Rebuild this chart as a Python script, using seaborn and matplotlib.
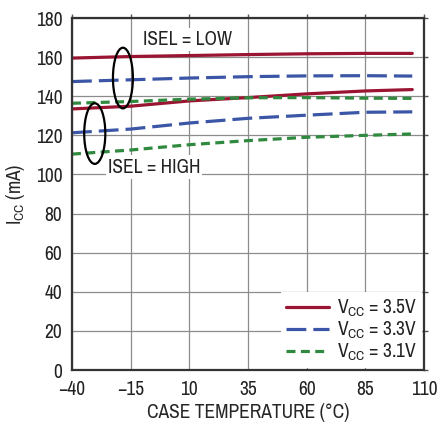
import numpy as np
import pandas as pd
import matplotlib
matplotlib.use('Agg')
import matplotlib.pyplot as plt
import seaborn as sns
from matplotlib.patches import Ellipse

temp = [-40, -15, 10, 35, 60, 85, 105]

# ISEL = LOW
low_35 = [159.5, 160.3, 160.8, 161.3, 161.7, 161.9, 161.9]
low_33 = [147.5, 148.4, 149.3, 150.0, 150.4, 150.5, 150.3]
low_31 = [136.4, 137.3, 138.5, 139.2, 139.3, 139.0, 138.9]

# ISEL = HIGH
high_35 = [133.5, 134.9, 137.6, 139.3, 141.2, 142.7, 143.4]
high_33 = [121.3, 123.2, 126.3, 128.7, 130.3, 131.8, 132.0]
high_31 = [110.4, 112.5, 115.2, 117.3, 119.0, 120.0, 120.7]

vcc_levels = ['3.5V', '3.3V', '3.1V']
xticks = [-40, -15, 10, 35, 60, 85, 110]
xtick_labels = ['\u221240', '\u221215', '10', '35', '60', '85', '110']

series = {
    ('3.5V', 'LOW'): low_35, ('3.3V', 'LOW'): low_33, ('3.1V', 'LOW'): low_31,
    ('3.5V', 'HIGH'): high_35, ('3.3V', 'HIGH'): high_33, ('3.1V', 'HIGH'): high_31,
}
rows = []
for (vcc, isel), vals in series.items():
    for t, v in zip(temp, vals):
        rows.append({'temp': t, 'icc': v, 'vcc': vcc, 'isel': isel})
df = pd.DataFrame(rows)

colors = {'3.5V': '#9a1531', '3.3V': '#3b56a6', '3.1V': '#2f8a3f'}
dashes = {'3.5V': None, '3.3V': (6.2, 2.2), '3.1V': (2.8, 1.7)}
LW = 2.3

sns.set_style('white')
plt.rcParams['font.family'] = ['Archivo Narrow', 'DejaVu Sans']
plt.rcParams['mathtext.fontset'] = 'custom'
plt.rcParams['mathtext.rm'] = 'Archivo Narrow'
plt.rcParams['text.color'] = '#222222'
plt.rcParams['xtick.color'] = '#555555'
plt.rcParams['ytick.color'] = '#555555'
plt.rcParams['xtick.labelcolor'] = '#222222'
plt.rcParams['ytick.labelcolor'] = '#222222'

fig = plt.figure(figsize=(4.39, 4.25), dpi=100)
ax = fig.add_axes([72 / 439, 55 / 425, 352 / 439, 352 / 425])

for vcc in vcc_levels:
    for isel in ['LOW', 'HIGH']:
        d = df[(df.vcc == vcc) & (df.isel == isel)]
        sns.lineplot(data=d, x='temp', y='icc', ax=ax, color=colors[vcc], lw=LW, legend=False)
        if dashes[vcc] is not None:
            ax.lines[-1].set_dashes(dashes[vcc])

ax.set_xlim(-40, 110)
ax.set_ylim(0, 180)
ax.set_xticks(xticks)
ax.set_xticklabels(xtick_labels)
ax.set_yticks(range(0, 181, 20))
ax.grid(True, color='#8c8c8c', lw=0.9)
ax.set_axisbelow(True)
for s in ax.spines.values():
    s.set_color('#333333')
    s.set_linewidth(1.6)
ax.tick_params(axis='both', direction='out', length=3, width=1,
               labelsize=14, pad=4, top=True, right=True)
ax.set_xlabel('CASE TEMPERATURE (°C)', fontsize=14, labelpad=3)
ax.set_ylabel(r'I$_{\mathrm{CC}}$ (mA)', fontsize=14, labelpad=6)

# ellipses marking the two current settings
ax.add_patch(Ellipse((-18.3, 149.3), 8.5, 31, fill=False, lw=1.6, ec='black', zorder=5))
ax.add_patch(Ellipse((-30.3, 120.9), 9, 31, fill=False, lw=1.6, ec='black', zorder=5))

ax.text(9.4, 169, 'ISEL = LOW', fontsize=14, ha='center', va='center',
        bbox=dict(fc='white', ec='none', pad=1.5), zorder=4)
ax.text(-5.1, 103.8, 'ISEL = HIGH', fontsize=14, ha='center', va='center',
        bbox=dict(fc='white', ec='none', pad=1.5), zorder=4)

handles = []
for v in vcc_levels:
    h = plt.Line2D([], [], color=colors[v], lw=LW)
    if dashes[v] is not None:
        h.set_dashes(dashes[v])
    handles.append(h)
leg = ax.legend(handles, [r'V$_{\mathrm{CC}}$ = ' + v for v in vcc_levels],
                loc='lower right', fontsize=14, frameon=True, fancybox=False,
                handlelength=2.2, handletextpad=0.4, labelspacing=0.05,
                borderpad=0.25, borderaxespad=0.1)
leg.get_frame().set_edgecolor('none')
leg.get_frame().set_alpha(1)

fig.savefig('out.png', dpi=100)
